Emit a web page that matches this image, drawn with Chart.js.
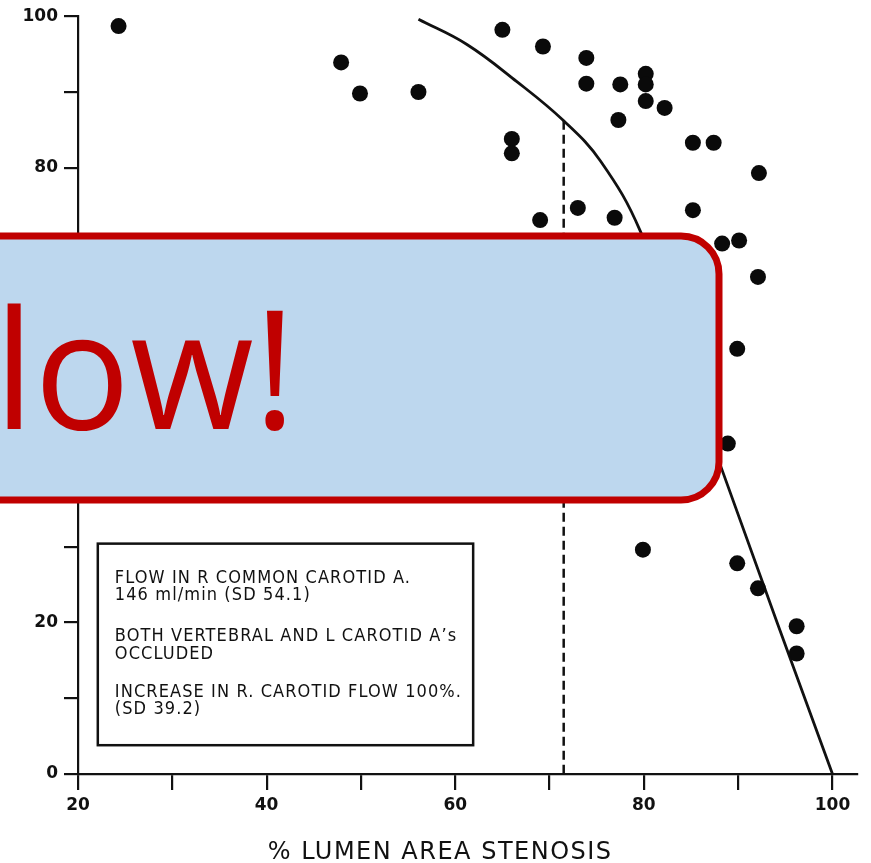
<!DOCTYPE html>
<html>
<head>
<meta charset="utf-8">
<script src="https://cdn.jsdelivr.net/npm/chart.js@4.4.1/dist/chart.umd.min.js"></script>
<style>
  html, body { margin: 0; padding: 0; background: #ffffff; }
  #wrap { width: 871px; height: 863px; position: relative; }
  canvas { display: block; }
</style>
</head>
<body>
<div id="wrap"><canvas id="chart" width="871" height="863"></canvas></div>
<script>
// Individual patients: % lumen area stenosis vs. flow (% of normal)
const stenosis = [24.3, 47.9, 49.9, 56.1, 65.0, 66.0, 66.0, 69.0, 69.3, 73.0,
                  73.9, 73.9, 76.9, 77.3, 77.5, 80.2, 80.2, 80.2, 82.2, 85.2,
                  87.4, 85.2, 88.3, 90.1, 92.2, 92.1, 89.9, 88.9, 79.9, 89.9,
                  92.1, 96.2, 96.2];
const flow     = [98.7, 93.9, 89.8, 90.0, 98.2, 83.8, 81.9, 73.1, 96.0, 74.7,
                  94.5, 91.1, 73.4, 86.3, 91.0, 92.4, 91.0, 88.8, 87.9, 83.3,
                  83.3, 74.4, 70.0, 70.4, 79.3, 65.6, 56.1, 43.6, 29.6, 27.8,
                  24.5, 19.5, 15.9];

// Fitted relation between stenosis and flow
const curveX = [56.1, 61.2, 66.5, 71.5, 75.4, 79.6, 84.0, 88.3, 100.0];
const curveY = [99.6, 96.3, 91.4, 86.2, 80.9, 71.7, 56.0, 40.1, 0.0];

// Critical stenosis marker
const criticalX = 71.5;
const criticalY = [86.2, 0];

const xTicks = [20, 30, 40, 50, 60, 70, 80, 90, 100];
const yTicks = [0, 10, 20, 30, 40, 50, 60, 70, 80, 90, 100];

const noteLines = [
  'FLOW IN R COMMON CAROTID A.',
  '146 ml/min (SD 54.1)',
  'BOTH VERTEBRAL AND L CAROTID A\u2019s',
  'OCCLUDED',
  'INCREASE IN R. CAROTID FLOW 100%.',
  '(SD 39.2)'
];
const axisTitle = '% LUMEN AREA STENOSIS';
const calloutText = 'low!';

const ink = '#111111';

const points = stenosis.map((x, i) => ({ x: x, y: flow[i] }));
const curve = curveX.map((x, i) => ({ x: x, y: curveY[i] }));
const critical = criticalY.map(y => ({ x: criticalX, y: y }));

// Boxed study note, anchored in data units
const noteBox = { x0: 22.1, x1: 61.9, y0: 3.8, y1: 30.4 };
const noteOffsets = [35, 52, 93, 111, 149, 166];

const notePlugin = {
  id: 'noteBox',
  afterDatasetsDraw(chart) {
    const { ctx, scales: { x, y } } = chart;
    const l = x.getPixelForValue(noteBox.x0), r = x.getPixelForValue(noteBox.x1);
    const t = y.getPixelForValue(noteBox.y1), b = y.getPixelForValue(noteBox.y0);
    ctx.save();
    ctx.strokeStyle = ink;
    ctx.lineWidth = 2.5;
    ctx.strokeRect(l, t, r - l, b - t);
    ctx.fillStyle = ink;
    ctx.font = '18px "DejaVu Sans Condensed", "DejaVu Sans", sans-serif';
    ctx.letterSpacing = '1.1px';
    ctx.textBaseline = 'middle';
    ctx.textAlign = 'left';
    noteLines.forEach((line, i) => {
      ctx.fillText(line, l + 17, t + noteOffsets[i]);
    });
    ctx.restore();
  }
};

// Axis title, set under the 20-100 span
const titlePlugin = {
  id: 'axisTitle',
  afterDraw(chart) {
    const { ctx, scales: { x } } = chart;
    ctx.save();
    ctx.fillStyle = ink;
    ctx.font = '24px "DejaVu Sans", sans-serif';
    ctx.letterSpacing = '1.5px';
    ctx.textAlign = 'center';
    ctx.textBaseline = 'alphabetic';
    ctx.fillText(axisTitle, x.getPixelForValue(58.4), 859);
    ctx.restore();
  }
};

// Rounded callout laid over the plot
const calloutPlugin = {
  id: 'callout',
  afterDraw(chart) {
    const ctx = chart.ctx;
    const left = -40, right = 719, top = 236, bottom = 500, rad = 38;
    ctx.save();
    ctx.beginPath();
    ctx.moveTo(left + rad, top);
    ctx.lineTo(right - rad, top);
    ctx.arcTo(right, top, right, top + rad, rad);
    ctx.lineTo(right, bottom - rad);
    ctx.arcTo(right, bottom, right - rad, bottom, rad);
    ctx.lineTo(left + rad, bottom);
    ctx.arcTo(left, bottom, left, bottom - rad, rad);
    ctx.lineTo(left, top + rad);
    ctx.arcTo(left, top, left + rad, top, rad);
    ctx.closePath();
    ctx.fillStyle = '#BDD7EE';
    ctx.fill();
    ctx.lineWidth = 7;
    ctx.strokeStyle = '#C00000';
    ctx.stroke();
    ctx.fillStyle = '#C00000';
    ctx.font = '500 164px "Open Sans", Lato, sans-serif';
    ctx.textAlign = 'left';
    ctx.textBaseline = 'alphabetic';
    ctx.fillText(calloutText, -6, 429, 302);
    ctx.restore();
  }
};

const tickFont = { family: '"DejaVu Sans", sans-serif', size: 17, weight: 'bold' };

new Chart(document.getElementById('chart'), {
  type: 'scatter',
  data: {
    datasets: [
      {
        data: points,
        pointRadius: 8,
        pointBackgroundColor: '#0a0a0a',
        pointBorderWidth: 0,
        showLine: false
      },
      {
        data: curve,
        showLine: true,
        borderColor: ink,
        borderWidth: 2.8,
        pointRadius: 0,
        tension: 0.4
      },
      {
        data: critical,
        showLine: true,
        borderColor: ink,
        borderWidth: 2.5,
        borderDash: [9, 5],
        pointRadius: 0
      }
    ]
  },
  options: {
    responsive: false,
    animation: false,
    devicePixelRatio: 1,
    layout: { padding: { top: 15, right: 14, left: 0, bottom: 0 } },
    plugins: { legend: { display: false }, tooltip: { enabled: false } },
    scales: {
      x: {
        type: 'linear',
        min: 20,
        max: 102.6,
        afterBuildTicks: s => { s.ticks = xTicks.map(v => ({ value: v })); },
        afterFit: s => { s.height = 89; },
        ticks: {
          callback: v => (v % 20 === 0 ? String(v) : ''),
          font: tickFont,
          color: ink,
          padding: 5,
          maxRotation: 0,
          autoSkip: false
        },
        grid: { drawOnChartArea: false, drawTicks: true, tickLength: 16, color: ink, lineWidth: 2.2 },
        border: { display: true, color: ink, width: 2.2 },
        title: { display: false }
      },
      y: {
        min: 0,
        max: 100,
        afterBuildTicks: s => { s.ticks = yTicks.map(v => ({ value: v })); },
        afterFit: s => { s.width = 78; },
        ticks: {
          callback: v => (v % 20 === 0 ? String(v) : ''),
          font: tickFont,
          color: ink,
          padding: 6,
          autoSkip: false
        },
        grid: { drawOnChartArea: false, drawTicks: true, tickLength: 14, color: ink, lineWidth: 2.2 },
        border: { display: true, color: ink, width: 2.2 }
      }
    }
  },
  plugins: [notePlugin, titlePlugin, calloutPlugin]
});
</script>
</body>
</html>
